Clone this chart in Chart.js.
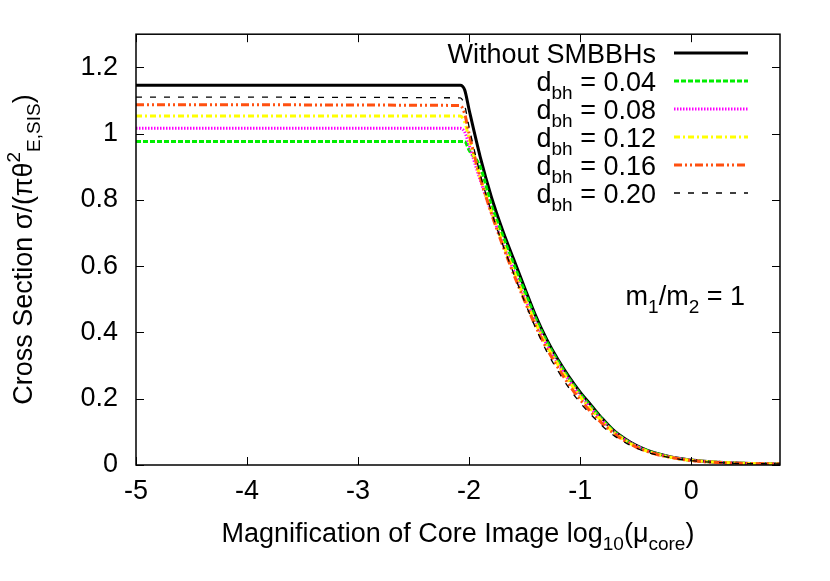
<!DOCTYPE html>
<html>
<head>
<meta charset="utf-8">
<script src="https://cdn.jsdelivr.net/npm/chart.js@4"></script>
<style>
  html, body { margin: 0; padding: 0; background: #fff; }
  canvas { display: block; }
</style>
</head>
<body>
<canvas id="chart" width="830" height="581"></canvas>
<script>
// log10(mu_core) grid shared by all curves
const xs = [-5, -2.08, -2.04, -2.0, -1.9, -1.8, -1.7, -1.6, -1.5, -1.4, -1.3, -1.2, -1.1, -1.0,
  -0.9, -0.8, -0.7, -0.6, -0.5, -0.4, -0.3, -0.2, -0.1, 0, 0.2, 0.4, 0.6, 0.8];

const noBH = [1.146, 1.146, 1.132, 1.072, 0.93, 0.81, 0.71, 0.622, 0.535, 0.45, 0.378, 0.318, 0.266, 0.22,
  0.18, 0.14, 0.105, 0.08, 0.06, 0.045, 0.034, 0.026, 0.02, 0.015, 0.009, 0.006, 0.004, 0.003];
const d04 = [0.976, 0.976, 0.976, 0.95, 0.9, 0.785, 0.695, 0.607, 0.525, 0.442, 0.372, 0.313, 0.261, 0.215,
  0.175, 0.137, 0.103, 0.078, 0.058, 0.044, 0.033, 0.025, 0.019, 0.014, 0.009, 0.006, 0.004, 0.003];
const d08 = [1.016, 1.016, 1.005, 0.965, 0.86, 0.762, 0.672, 0.587, 0.505, 0.43, 0.363, 0.306, 0.256, 0.21,
  0.171, 0.134, 0.101, 0.077, 0.058, 0.043, 0.032, 0.025, 0.019, 0.014, 0.009, 0.006, 0.004, 0.003];
const d12 = [1.053, 1.053, 1.035, 0.985, 0.868, 0.765, 0.673, 0.587, 0.503, 0.427, 0.36, 0.303, 0.252, 0.206,
  0.167, 0.131, 0.099, 0.075, 0.056, 0.042, 0.032, 0.024, 0.018, 0.014, 0.009, 0.006, 0.004, 0.003];
const d16 = [1.087, 1.085, 1.06, 1.0, 0.868, 0.76, 0.665, 0.577, 0.495, 0.418, 0.351, 0.294, 0.242, 0.197,
  0.159, 0.125, 0.096, 0.073, 0.055, 0.041, 0.031, 0.024, 0.018, 0.013, 0.008, 0.005, 0.004, 0.003];
const d20 = [1.11, 1.108, 1.085, 1.02, 0.878, 0.765, 0.668, 0.579, 0.493, 0.413, 0.342, 0.284, 0.232, 0.188,
  0.151, 0.118, 0.09, 0.069, 0.052, 0.039, 0.03, 0.023, 0.017, 0.013, 0.008, 0.005, 0.004, 0.003];

const dbhLabels = ["0.04", "0.08", "0.12", "0.16", "0.20"];
const xTicks = [-5, -4, -3, -2, -1, 0];
const yTicks = [0, 0.2, 0.4, 0.6, 0.8, 1, 1.2];

const FONT = '"Liberation Sans", Arial, Helvetica, sans-serif';
const BIG = 27, SMALL = 19;

const series = [
  { label: null, values: noBH, color: "#000000", width: 3, dash: [] },
  { label: dbhLabels[0], values: d04, color: "#00ee00", width: 3, dash: [5, 2] },
  { label: dbhLabels[1], values: d08, color: "#ff00ff", width: 3, dash: [1.5, 1.5] },
  { label: dbhLabels[2], values: d12, color: "#ffff00", width: 3, dash: [6, 3, 2, 3] },
  { label: dbhLabels[3], values: d16, color: "#ff5010", width: 3, dash: [8, 3, 2, 3, 2, 3] },
  { label: dbhLabels[4], values: d20, color: "#000000", width: 1.3, dash: [6, 8] }
];

function setFont(ctx, kind) {
  ctx.font = (kind ? SMALL : BIG) + "px " + FONT;
}

function richWidth(ctx, parts) {
  let w = 0;
  parts.forEach(p => { setFont(ctx, p[1]); w += ctx.measureText(p[0]).width; });
  return w;
}

// parts: [text, ''|'sub'|'sup'], y is the baseline
function drawRich(ctx, parts, x, y, align) {
  const w = richWidth(ctx, parts);
  let cx = align === "right" ? x - w : align === "center" ? x - w / 2 : x;
  ctx.textAlign = "left";
  ctx.textBaseline = "alphabetic";
  ctx.fillStyle = "#000";
  parts.forEach(p => {
    setFont(ctx, p[1]);
    const dy = p[1] === "sub" ? 8 : p[1] === "sup" ? -12 : 0;
    ctx.fillText(p[0], cx, y + dy);
    cx += ctx.measureText(p[0]).width;
  });
}

const decor = {
  id: "decor",
  afterDatasetsDraw(chart) {
    const ctx = chart.ctx;
    const a = chart.chartArea;
    const xs_ = chart.scales.x, ys_ = chart.scales.y;
    ctx.save();
    ctx.strokeStyle = "#000";
    ctx.lineWidth = 1.5;
    ctx.setLineDash([]);
    ctx.strokeRect(a.left, a.top, a.right - a.left, a.bottom - a.top);

    // inward ticks on all four sides
    ctx.lineWidth = 1;
    ctx.beginPath();
    xTicks.forEach(v => {
      const px = Math.round(xs_.getPixelForValue(v)) + 0.5;
      ctx.moveTo(px, a.bottom); ctx.lineTo(px, a.bottom - 8);
      ctx.moveTo(px, a.top); ctx.lineTo(px, a.top + 8);
    });
    yTicks.forEach(v => {
      const py = Math.round(ys_.getPixelForValue(v)) + 0.5;
      ctx.moveTo(a.left, py); ctx.lineTo(a.left + 8, py);
      ctx.moveTo(a.right, py); ctx.lineTo(a.right - 8, py);
    });
    ctx.stroke();

    // legend
    const rowY = [53, 81, 109, 137, 165, 193];
    series.forEach((s, i) => {
      const y = rowY[i];
      const parts = s.label === null
        ? [["Without SMBBHs", ""]]
        : [["d", ""], ["bh", "sub"], [" = " + s.label, ""]];
      drawRich(ctx, parts, 656, y + 10, "right");
      ctx.strokeStyle = s.color;
      ctx.lineWidth = s.width;
      ctx.setLineDash(s.dash);
      ctx.beginPath();
      ctx.moveTo(674, y); ctx.lineTo(748, y);
      ctx.stroke();
    });
    ctx.setLineDash([]);

    // mass ratio note
    drawRich(ctx, [["m", ""], ["1", "sub"], ["/m", ""], ["2", "sub"], [" = 1", ""]], 745, 305, "right");

    // axis titles
    drawRich(ctx, [["Magnification of Core Image log", ""], ["10", "sub"], ["(\u03bc", ""], ["core", "sub"], [")", ""]],
      (a.left + a.right) / 2, 542, "center");
    ctx.save();
    ctx.translate(32, (a.top + a.bottom) / 2);
    ctx.rotate(-Math.PI / 2);
    drawRich(ctx, [["Cross Section \u03c3/(\u03c0\u03b8", ""], ["2", "sup"], ["E,SIS", "sub"], [")", ""]], 0, 0, "center");
    ctx.restore();
    ctx.restore();
  }
};

const datasets = series.map((s, i) => ({
  label: s.label || "Without SMBBHs",
  data: xs.map((x, j) => ({ x: x, y: s.values[j] })),
  borderColor: s.color,
  borderWidth: s.width,
  borderDash: s.dash,
  pointRadius: 0,
  fill: false,
  cubicInterpolationMode: "monotone",
  order: series.length - i
}));

new Chart(document.getElementById("chart"), {
  type: "line",
  data: { datasets },
  plugins: [decor],
  options: {
    responsive: false,
    animation: false,
    devicePixelRatio: 1,
    layout: { padding: { left: 0, right: 50, top: 33, bottom: 0 } },
    plugins: { legend: { display: false }, tooltip: { enabled: false } },
    scales: {
      x: {
        type: "linear",
        min: -5,
        max: 0.8,
        grid: { display: false, drawTicks: false },
        border: { display: false },
        afterBuildTicks: sc => { sc.ticks = xTicks.map(v => ({ value: v })); },
        afterFit: sc => { sc.height = 116; },
        ticks: {
          color: "#000",
          font: { family: FONT, size: BIG },
          padding: 10,
          maxRotation: 0,
          autoSkip: false,
          callback: v => String(v)
        }
      },
      y: {
        min: 0,
        max: 1.3,
        grid: { display: false, drawTicks: false },
        border: { display: false },
        afterBuildTicks: sc => { sc.ticks = yTicks.map(v => ({ value: v })); },
        afterFit: sc => { sc.width = 136; },
        ticks: {
          color: "#000",
          font: { family: FONT, size: BIG },
          padding: 18,
          autoSkip: false,
          callback: v => String(Math.round(v * 10) / 10)
        }
      }
    }
  }
});
</script>
</body>
</html>
